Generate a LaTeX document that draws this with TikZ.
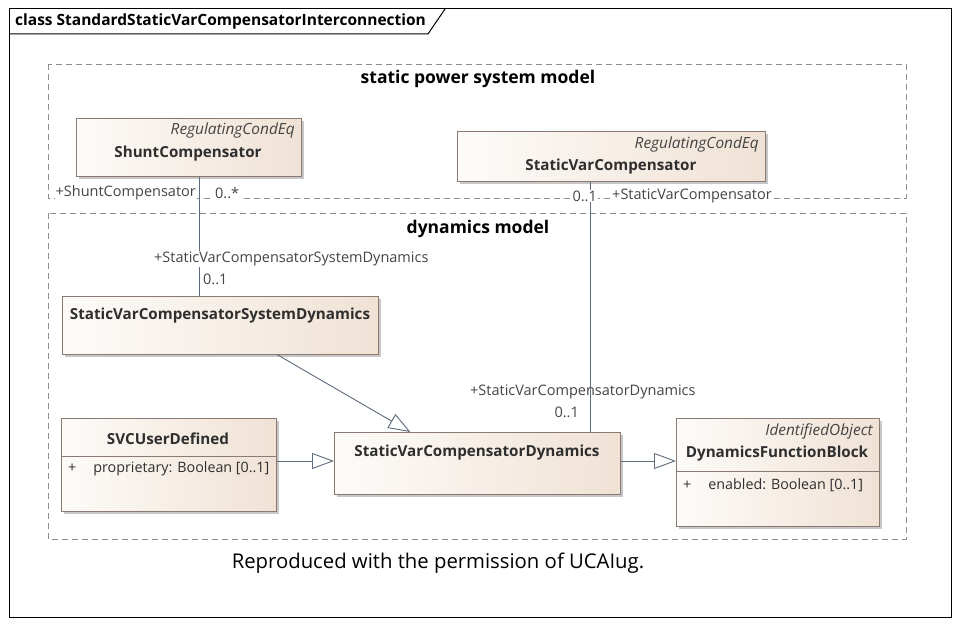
\documentclass[tikz,border=0pt]{standalone}
\usepackage{fontspec}
\setmainfont{Open Sans}
\usetikzlibrary{arrows.meta,shadows}
\definecolor{boxline}{HTML}{8A7A72}
\definecolor{boxA}{HTML}{FDFBF9}
\definecolor{boxB}{HTML}{F0E2D5}
\definecolor{conn}{HTML}{5F6B7F}
\definecolor{pkg}{HTML}{8E8E8E}
\definecolor{txt}{HTML}{2E2E2E}
\definecolor{lbltxt}{HTML}{444444}
\tikzset{
  cls/.style={draw=boxline, line width=0.8pt, left color=boxA, right color=boxB,
    drop shadow={shadow xshift=2.5pt, shadow yshift=-2.5pt, fill=black, opacity=0.22},
    inner sep=0pt, anchor=north west},
  cname/.style={font=\fontsize{15.2}{17}\selectfont\bfseries, text=txt, inner sep=0pt},
  stereo/.style={font=\fontsize{15.4}{17}\selectfont\itshape, text=lbltxt, inner sep=0pt, anchor=east},
  attr/.style={font=\fontsize{14.3}{16}\selectfont, text=txt, inner sep=0pt, anchor=west},
  lbl/.style={font=\fontsize{14.5}{16}\selectfont, text=lbltxt, inner sep=1pt, fill=white},
  pkgbox/.style={draw=pkg, dash pattern=on 6pt off 4pt, line width=0.8pt},
  pkgtitle/.style={font=\fontsize{17.5}{19}\selectfont\bfseries, text=black, inner sep=0pt},
  conline/.style={draw=conn, line width=0.9pt},
  gen/.style={conline, -{Triangle[open, length=22pt, width=16pt, fill=white]}},
}
\begin{document}
\begin{tikzpicture}[x=1pt,y=-1pt]
\useasboundingbox (0,0) rectangle (959,626);
\fill[white] (0,0) rectangle (959,626);
% outer frame
\draw[line width=1pt] (9,9) rectangle (951,617);
\draw[line width=1pt] (9,34) -- (428,34) -- (445,9);
\node[font=\fontsize{15.5}{17}\selectfont\bfseries, anchor=west, inner sep=0pt] (title) at (15,21) {class StandardStaticVarCompensatorInterconnection};

% packages
\draw[pkgbox] (48,64) rectangle (906,198);
\node[pkgtitle] (pkgA) at (478,79) {static power system model};
\draw[pkgbox] (48,213) rectangle (906,539);
\node[pkgtitle] (pkgB) at (478,229) {dynamics model};

% classes
\node[cls, minimum width=225pt, minimum height=58pt] (sc) at (76,118) {};
\node[stereo] (scst) at (295,130) {RegulatingCondEq};
\node[cname] (scn) at (188,154) {ShuntCompensator};

\node[cls, minimum width=308pt, minimum height=50pt] (svc) at (457,131) {};
\node[stereo] (svcst) at (759,144) {RegulatingCondEq};
\node[cname] (svcn) at (611,167) {StaticVarCompensator};

\node[cls, minimum width=316pt, minimum height=58pt] (svcsd) at (62,296) {};
\node[cname] (svcsdn) at (220,316) {StaticVarCompensatorSystemDynamics};

\node[cls, minimum width=215pt, minimum height=93pt] (udef) at (61,418) {};
\node[cname] (udefn) at (168,439) {SVCUserDefined};
\draw[boxline, line width=0.8pt] (udef.west |- 0,456) -- (udef.east |- 0,456);
\node[attr] (udefa) at (68,469) {+\hspace{17pt}proprietary: Boolean [0..1]};

\node[cls, minimum width=286pt, minimum height=62pt] (svcd) at (334,432) {};
\node[cname] (svcdn) at (477,453) {StaticVarCompensatorDynamics};

\node[cls, minimum width=203pt, minimum height=108pt] (dfb) at (676,418) {};
\node[stereo] (dfbst) at (873,431) {IdentifiedObject};
\node[cname] (dfbn) at (777,454) {DynamicsFunctionBlock};
\draw[boxline, line width=0.8pt] (dfb.west |- 0,471) -- (dfb.east |- 0,471);
\node[attr] (dfba) at (683,485) {+\hspace{17pt}enabled: Boolean [0..1]};

% connectors
\draw[conline] ([xshift=10.5pt]sc.south) -- ([xshift=10.5pt]sc.south |- svcsd.north);
\draw[conline] ([xshift=-20.5pt]svc.south) -- ([xshift=-20.5pt]svc.south |- svcd.north);
\draw[gen] ([xshift=57pt]svcsd.south) -- ([xshift=-67pt]svcd.north);
\draw[gen] (udef.east |- 0,461) -- (svcd.west |- 0,461);
\draw[gen] (svcd.east |- 0,461) -- (dfb.west |- 0,461);

% connector labels
\node[lbl, anchor=east] (l1) at (197,193) {+ShuntCompensator};
\node[lbl, anchor=west] (l2) at (214,193) {0..*};
\node[lbl, anchor=west] (l3) at (153,259) {+StaticVarCompensatorSystemDynamics};
\node[lbl, anchor=west, fill=none] (l4) at (202,279) {0..1};
\node[lbl, anchor=east] (l5) at (598,196) {0..1};
\node[lbl, anchor=west] (l6) at (611,196) {+StaticVarCompensator};
\node[lbl, anchor=west, fill=none] (l7) at (469,392) {+StaticVarCompensatorDynamics};
\node[lbl, anchor=east, fill=none] (l8) at (580,412) {0..1};

% caption
\node[font=\fontsize{20.3}{23}\selectfont, text=black, inner sep=0pt] (cap) at (438,563) {Reproduced with the permission of UCAIug.};
\end{tikzpicture}
\end{document}
